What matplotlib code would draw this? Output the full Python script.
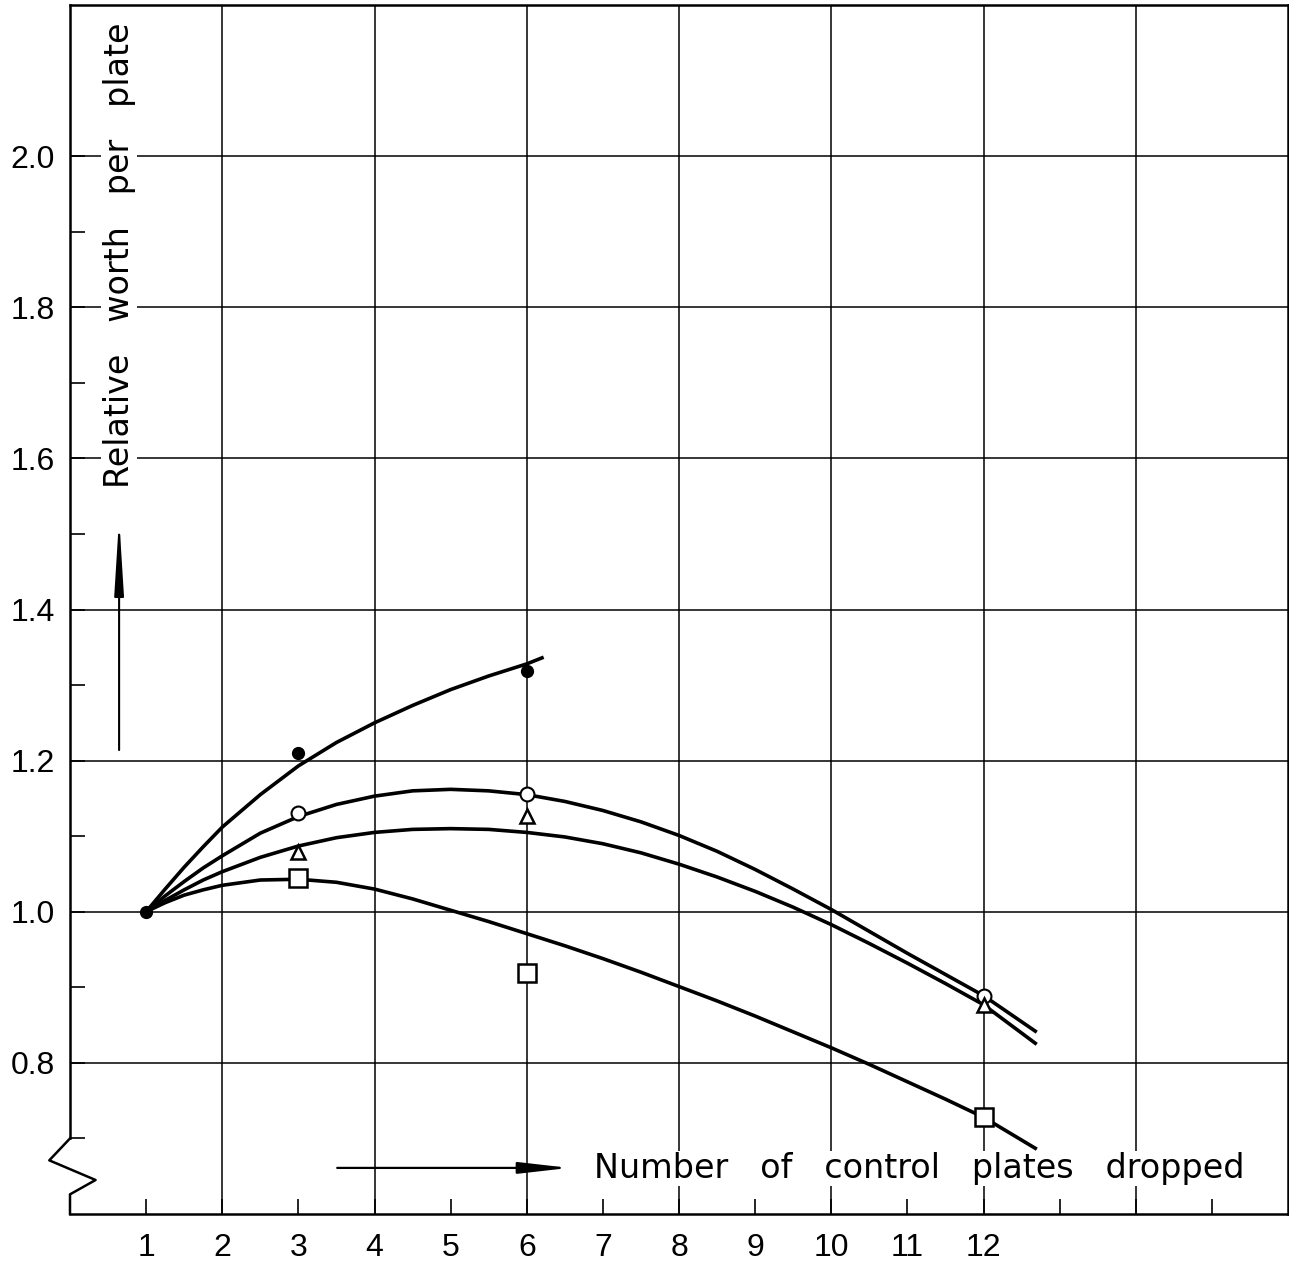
import matplotlib
matplotlib.use("Agg")
import matplotlib.pyplot as plt

plt.rcParams['font.family'] = ['Liberation Sans', 'DejaVu Sans']

# measured points (number of plates dropped -> relative worth per plate)
filled_x = [1, 3, 6]
filled_y = [1.0, 1.21, 1.318]
open_x = [3, 6, 12]
circle_y = [1.131, 1.156, 0.889]
triangle_y = [1.079, 1.127, 0.877]
square_y = [1.045, 0.919, 0.729]

# hand-drawn curves
filled_curve_x = [1, 1.25, 1.5, 1.75, 2, 2.5, 3, 3.5, 4, 4.5, 5, 5.5, 6, 6.2]
filled_curve_y = [1.0, 1.030, 1.059, 1.086, 1.112, 1.155, 1.193, 1.224, 1.250, 1.273,
                  1.294, 1.312, 1.328, 1.336]

curve_x = [1, 1.25, 1.5, 1.75, 2, 2.5, 3, 3.5, 4, 4.5, 5, 5.5, 6, 6.5, 7, 7.5, 8, 8.5,
           9, 9.5, 10, 10.5, 11, 11.5, 12, 12.68]
circle_curve_y = [1.0, 1.021, 1.040, 1.058, 1.074, 1.104, 1.126, 1.142, 1.153, 1.160,
                  1.162, 1.160, 1.155, 1.146, 1.134, 1.119, 1.101, 1.080, 1.056, 1.030,
                  1.003, 0.974, 0.945, 0.917, 0.889, 0.842]
triangle_curve_y = [1.0, 1.015, 1.029, 1.042, 1.053, 1.072, 1.087, 1.098, 1.105, 1.109,
                    1.110, 1.109, 1.105, 1.099, 1.090, 1.078, 1.063, 1.046, 1.027, 1.006,
                    0.983, 0.958, 0.932, 0.905, 0.877, 0.826]
square_curve_y = [1.0, 1.012, 1.022, 1.029, 1.035, 1.042, 1.043, 1.039, 1.030, 1.017,
                  1.002, 0.987, 0.971, 0.955, 0.938, 0.920, 0.901, 0.882, 0.862, 0.841,
                  0.820, 0.798, 0.775, 0.752, 0.728, 0.687]

odd_ticks = [1, 3, 5, 7, 9, 11, 13, 15]
odd_labels = ['1', '3', '5', '7', '9', '11', '', '']
even_ticks = [2, 4, 6, 8, 10, 12, 14]
even_labels = ['2', '4', '6', '8', '10', '12', '']
y_ticks = [0.8, 1.0, 1.2, 1.4, 1.6, 1.8, 2.0]
y_labels = ['0.8', '1.0', '1.2', '1.4', '1.6', '1.8', '2.0']
y_minor = [0.7, 0.9, 1.1, 1.3, 1.5, 1.7, 1.9]

fig = plt.figure(figsize=(12.89, 12.64), dpi=100)
ax = fig.add_axes([70 / 1289, 50 / 1264, 1218 / 1289, 1209 / 1264])
ax.set_xlim(0, 16)
ax.set_ylim(0.6, 2.2)
ax.set_axisbelow(True)

# axes, ticks, grid
ax.set_xticks(odd_ticks)
ax.set_xticklabels(odd_labels)
ax.set_xticks(even_ticks, minor=True)
ax.set_xticklabels(even_labels, minor=True)
ax.set_yticks(y_ticks)
ax.set_yticklabels(y_labels)
ax.set_yticks(y_minor, minor=True)
ax.tick_params(axis='x', which='both', direction='in', length=11, width=1.2,
               labelsize=23, pad=14, colors='black')
ax.tick_params(axis='y', which='both', direction='in', length=11, width=1.2,
               labelsize=23, pad=11, colors='black')
ax.grid(axis='x', which='minor', color='black', lw=1.1)
ax.grid(axis='y', which='major', color='black', lw=1.1)
for s in ax.spines.values():
    s.set_linewidth(1.8)
ax.spines['left'].set_bounds(0.7, 2.2)

# axis break on the left
yt = ax.get_yaxis_transform()
ax.plot([0, -0.017, 0.021, 0, 0], [0.7, 0.671, 0.645, 0.626, 0.6],
        color='black', lw=1.8, transform=yt, clip_on=False, zorder=5)

# curves
lw = 2.6
ax.plot(filled_curve_x, filled_curve_y, color='black', lw=lw, zorder=3)
ax.plot(curve_x, circle_curve_y, color='black', lw=lw, zorder=3)
ax.plot(curve_x, triangle_curve_y, color='black', lw=lw, zorder=3)
ax.plot(curve_x, square_curve_y, color='black', lw=lw, zorder=3)

# points
ax.plot(filled_x, filled_y, 'o', color='black', ms=8.5, zorder=4)
ax.plot(open_x, circle_y, 'o', mfc='white', mec='black', mew=1.5, ms=10, zorder=4)
ax.plot(open_x, triangle_y, '^', mfc='white', mec='black', mew=1.8, ms=10.5, zorder=4)
ax.plot(open_x, square_y, 's', mfc='white', mec='black', mew=1.8, ms=12.5, zorder=4)

# axis labels with arrows
box = dict(facecolor='white', edgecolor='none', pad=1)
ax.text(0.645, 1.869, 'Relative   worth   per   plate', rotation=90, ha='center',
        va='center', fontsize=24, family='DejaVu Sans', bbox=box, zorder=2.5)
ax.text(11.16, 0.66, 'Number   of   control   plates   dropped', ha='center',
        va='center', fontsize=24, family='DejaVu Sans', bbox=box, zorder=2.5)
ax.annotate('', xy=(0.645, 1.521), xytext=(0.645, 1.214),
            arrowprops=dict(arrowstyle='-|>,head_length=3.2,head_width=0.2',
                            color='black', lw=1.5, mutation_scale=14,
                            shrinkA=0, shrinkB=0))
ax.annotate('', xy=(6.56, 0.661), xytext=(3.51, 0.661),
            arrowprops=dict(arrowstyle='-|>,head_length=2.2,head_width=0.25',
                            color='black', lw=1.6, mutation_scale=14,
                            shrinkA=0, shrinkB=0))

fig.savefig('out.png', dpi=100)
